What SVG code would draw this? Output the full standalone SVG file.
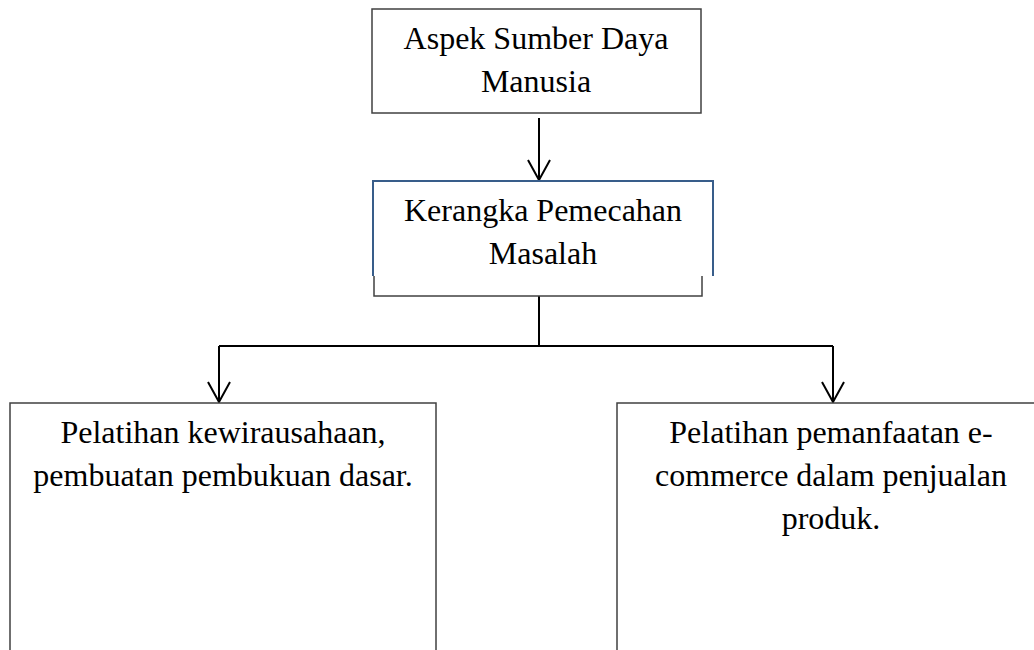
<svg xmlns="http://www.w3.org/2000/svg" width="1034" height="650" viewBox="0 0 1034 650">
<style>
.box{fill:#fff;stroke:#404040;stroke-width:1.5}
.blue{fill:#fff;stroke:#385D8A;stroke-width:2}
.t{font-family:'Liberation Serif','DejaVu Serif',serif;font-size:32px;fill:#000;text-anchor:middle}
.c{fill:none;stroke:#000;stroke-width:2}
</style>
<defs>
<marker id="ah" markerWidth="22" markerHeight="24" refX="21" refY="12" markerUnits="userSpaceOnUse" orient="auto" viewBox="0 0 22 24">
<path d="M1,1 L21,12 L1,23" fill="none" stroke="#000" stroke-width="2"/>
</marker>
</defs>
<rect width="1034" height="650" fill="#fff"/>
<g id="connectors">
<path class="c" d="M539,118 V180" marker-end="url(#ah)"/>
<path class="c" d="M539,296 V346"/>
<path class="c" d="M219,346 H833"/>
<path class="c" d="M219,346 V402" marker-end="url(#ah)"/>
<path class="c" d="M833,346 V402" marker-end="url(#ah)"/>
</g>
<g id="node-aspek">
<rect class="box" x="372" y="9" width="329" height="104"/>
<text class="t" x="536" y="49" font-family="Liberation Serif">Aspek Sumber Daya</text>
<text class="t" x="536" y="92" font-family="Liberation Serif">Manusia</text>
</g>
<g id="node-kerangka">
<rect class="box" x="374" y="181" width="328" height="115"/>
<path class="blue" d="M373,276 V181 H713 V276"/>
<text class="t" x="543" y="221" font-family="Liberation Serif">Kerangka Pemecahan</text>
<text class="t" x="543" y="264" font-family="Liberation Serif">Masalah</text>
</g>
<g id="node-kewirausahaan">
<rect class="box" x="10" y="403" width="426" height="260"/>
<text class="t" x="223" y="443" font-family="Liberation Serif">Pelatihan kewirausahaan,</text>
<text class="t" x="223" y="486" font-family="Liberation Serif">pembuatan pembukuan dasar.</text>
</g>
<g id="node-ecommerce">
<rect class="box" x="617" y="403" width="440" height="260"/>
<text class="t" x="831" y="443" font-family="Liberation Serif">Pelatihan pemanfaatan e-</text>
<text class="t" x="831" y="486" font-family="Liberation Serif">commerce dalam penjualan</text>
<text class="t" x="831" y="529" font-family="Liberation Serif">produk.</text>
</g>
</svg>
